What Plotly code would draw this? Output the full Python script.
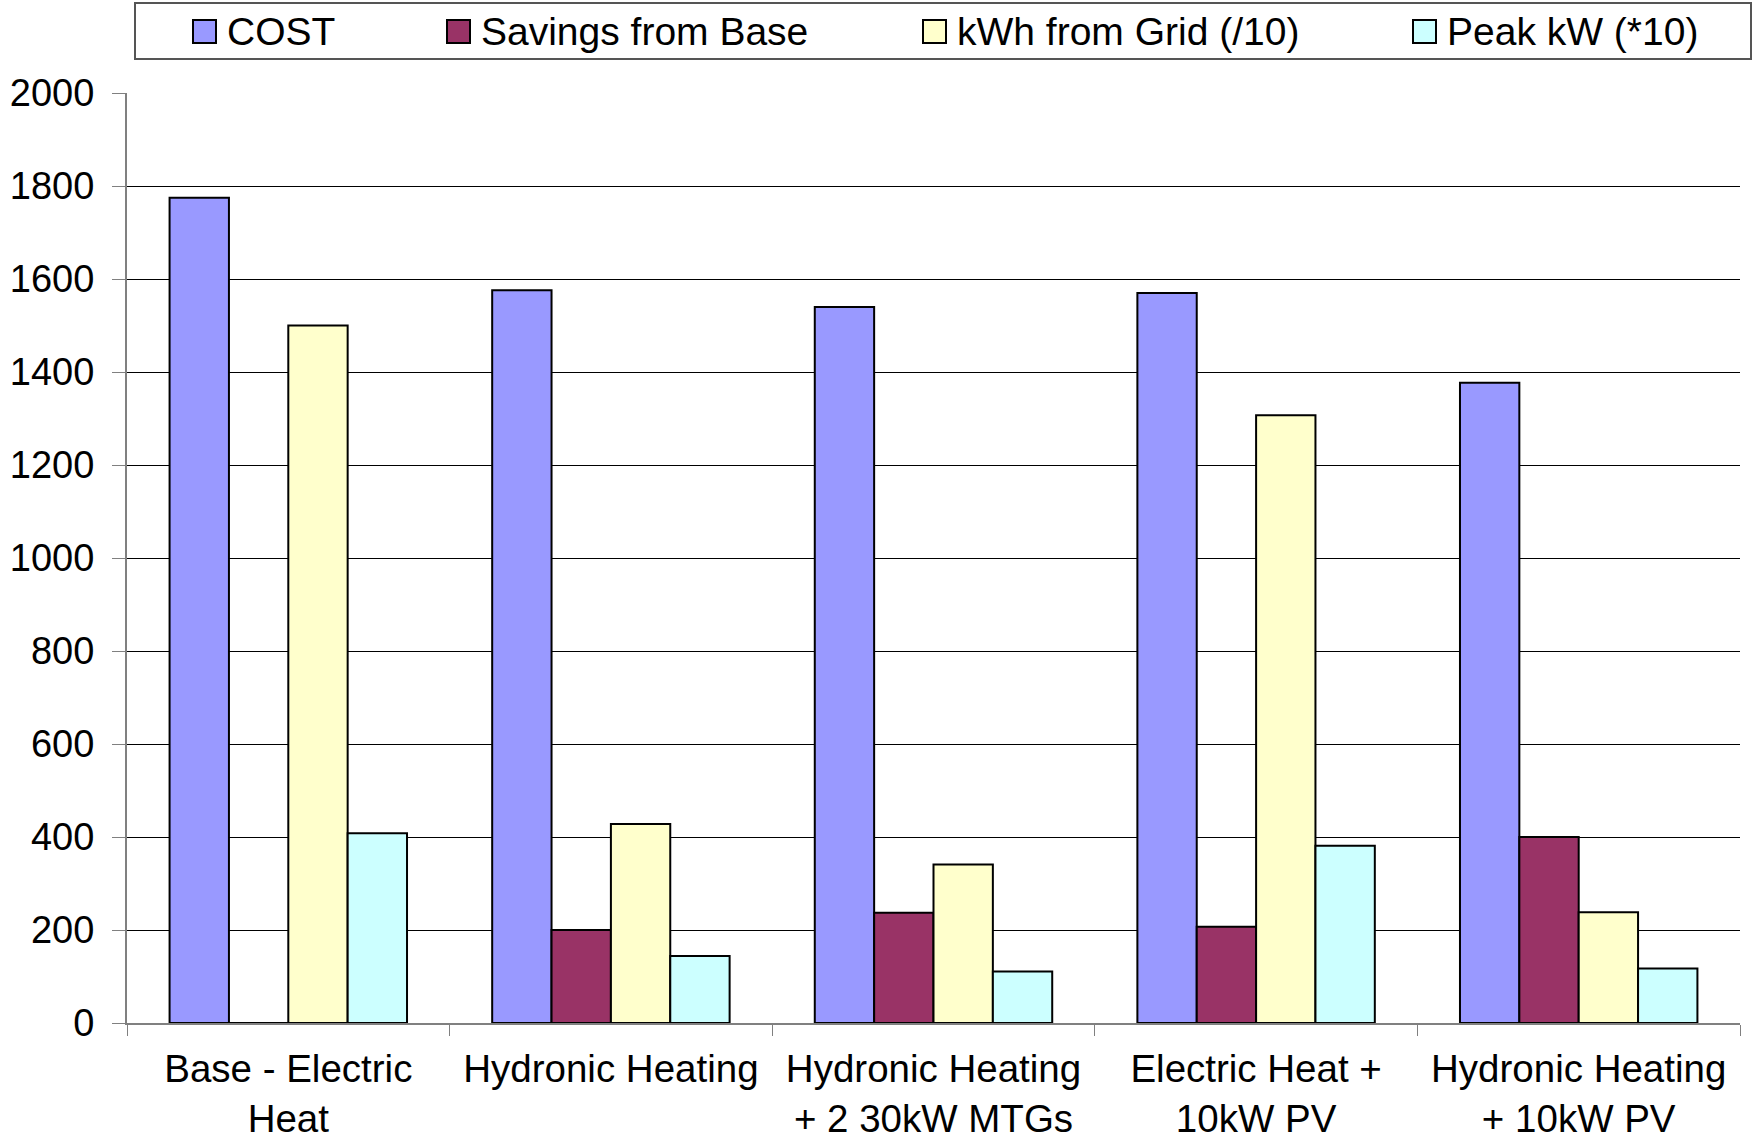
import plotly.graph_objects as go

# Scenarios compared along the x axis
categories = [
    "Base - Electric<br>Heat",
    "Hydronic Heating",
    "Hydronic Heating<br>+ 2 30kW MTGs",
    "Electric Heat +<br>10kW PV",
    "Hydronic Heating<br>+ 10kW PV",
]

# Series values
cost = [1775, 1576, 1540, 1570, 1377]
savings_from_base = [0, 200, 237, 207, 400]
kwh_from_grid_div10 = [1500, 428, 341, 1307, 238]
peak_kw_x10 = [408, 144, 111, 381, 117]

series_names = ["COST", "Savings from Base", "kWh from Grid (/10)", "Peak kW (*10)"]
series_values = [cost, savings_from_base, kwh_from_grid_div10, peak_kw_x10]
series_colors = ["#9999FF", "#993366", "#FFFFCC", "#CCFFFF"]

y_ticks = [0, 200, 400, 600, 800, 1000, 1200, 1400, 1600, 1800, 2000]

FONT = "Liberation Sans, Arial, sans-serif"
FS = 39
FS_X = 38.5
FS_Y = 38

# Page / plot-area geometry in pixels
W, H = 1758, 1145
L, R, T, B = 127, 18, 93, 122
PW, PH = W - L - R, H - T - B


def px_x(x):
    return (x - L) / PW


def px_y(y):
    return (H - B - y) / PH


fig = go.Figure()
for name, vals, color in zip(series_names, series_values, series_colors):
    fig.add_trace(go.Bar(
        x=categories, y=vals, name=name,
        marker=dict(color=color, line=dict(color="black", width=2)),
        showlegend=False,
    ))

# Boxed legend across the top
legend_sq_x = [193, 447, 923, 1413]
shapes = [dict(type="rect", xref="paper", yref="paper",
               x0=px_x(135), x1=px_x(1751), y0=px_y(59), y1=px_y(3),
               line=dict(color="#555555", width=2), fillcolor="white", layer="below")]
annotations = []
for sx, name, color in zip(legend_sq_x, series_names, series_colors):
    shapes.append(dict(type="rect", xref="paper", yref="paper",
                       x0=px_x(sx), x1=px_x(sx + 23), y0=px_y(43), y1=px_y(20),
                       line=dict(color="black", width=2), fillcolor=color))
    annotations.append(dict(xref="paper", yref="paper", x=px_x(sx + 32), y=px_y(31),
                            text=name, showarrow=False, xanchor="left", yanchor="middle",
                            font=dict(family=FONT, size=FS, color="black")))

fig.update_layout(
    width=W, height=H,
    margin=dict(l=L, r=R, t=T, b=B, pad=0),
    paper_bgcolor="white", plot_bgcolor="white",
    barmode="group", bargap=0.264, bargroupgap=0,
    font=dict(family=FONT, size=FS, color="black"),
    shapes=shapes, annotations=annotations,
    xaxis=dict(
        automargin=False,
        showline=True, linecolor="#808080", linewidth=2,
        ticks="outside", tickson="boundaries", ticklen=11, tickcolor="#808080", tickwidth=1,
        ticklabelstandoff=11,
        tickfont=dict(family=FONT, size=FS_X, color="black"),
        showgrid=False,
    ),
    yaxis=dict(
        automargin=False,
        range=[0, 2000], tickvals=y_ticks,
        showline=True, linecolor="#808080", linewidth=2,
        ticks="outside", ticklen=13, tickcolor="#808080", tickwidth=1,
        ticklabelstandoff=10,
        tickfont=dict(family=FONT, size=FS_Y, color="black"),
        showgrid=True, gridcolor="black", gridwidth=1,
        zeroline=False,
    ),
)

fig.write_html("out.html")
